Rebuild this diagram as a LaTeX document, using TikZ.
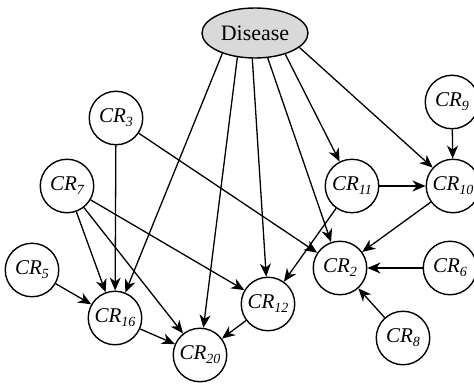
\documentclass[tikz,border=0pt]{standalone}
\usepackage{fontspec}
\setmainfont{Liberation Serif}
\usepackage{xcolor}
\usepackage{tikz}
\usetikzlibrary{shapes.geometric, arrows.meta, positioning}
\definecolor{diseasegray}{RGB}{217,217,217}
\tikzset{
    circlenode/.style = {circle, draw, line width=1.4pt, inner sep = 0em, minimum size=53.5pt, 
      node distance=0em, font=\fontsize{21}{24}\selectfont\itshape},
    ellipsenode/.style = {draw, ellipse, line width=1.4pt, fill=diseasegray, inner sep = 0em, 
      node distance=0em, minimum width=106pt, minimum height=50pt, font=\fontsize{22}{26}\selectfont},
    connect/.style = {black, line width=1.3pt, -{Stealth[length=13pt, width=11pt, inset=4pt]}}
}
\newcommand{\crlab}[1]{CR\raisebox{-4pt}{\fontsize{14}{14}\selectfont #1}}

\begin{document}
\begin{tikzpicture}
    \useasboundingbox (-255pt,33pt) rectangle (219pt,-350pt);

    \node [name=dis, ellipsenode] {Disease}; 

    \node [name=cr3, circlenode, right of = dis, xshift=-139pt, yshift=-85pt] {\crlab{3}}; 
    \node [name=cr9, circlenode, right of = dis, xshift=197pt, yshift=-69pt] {\crlab{9}}; 

    \node [name=cr7, circlenode, right of = dis, xshift=-188pt, yshift=-153pt] {\crlab{7}}; 
    \node [name=cr11, circlenode, right of = dis, xshift=97pt, yshift=-153pt] {\crlab{11}}; 
    \node [name=cr10, circlenode, right of = dis, xshift=198pt, yshift=-153pt] {\crlab{10}}; 

    \node [name=cr5, circlenode, right of = dis, xshift=-223pt, yshift=-237pt] {\crlab{5}}; 
    \node [name=cr2, circlenode, right of = dis, xshift=85pt, yshift=-235pt] {\crlab{2}}; 
    \node [name=cr6, circlenode, right of = dis, xshift=195pt, yshift=-235pt] {\crlab{6}}; 

    \node [name=cr12, circlenode, right of = dis, xshift=13pt, yshift=-271pt] {\crlab{12}}; 
    \node [name=cr16, circlenode, right of = dis, xshift=-140pt, yshift=-285pt] {\crlab{16}}; 
    \node [name=cr8, circlenode, right of = dis, xshift=148pt, yshift=-305pt] {\crlab{8}}; 
    \node [name=cr20, circlenode, right of = dis, xshift=-55pt, yshift=-322pt] {\crlab{20}}; 

    \draw [connect] (dis.212) -- (cr16);
    \draw [connect] (dis.234) -- (cr20);
    \draw [connect] (dis.264) -- (cr12);
    \draw [connect] (dis.297) -- (cr2);
    \draw [connect] (dis.325) -- (cr11);
    \draw [connect] (dis.342) -- (cr10);

    \draw [connect] (cr3) -- (cr16);
    \draw [connect] (cr3) -- (cr2);
    \draw [connect] (cr7) -- (cr16);
    \draw [connect] (cr7) -- (cr20);
    \draw [connect] (cr7) -- (cr12);
    \draw [connect] (cr5) -- (cr16);
    \draw [connect] (cr16) -- (cr20);
    \draw [connect] (cr12) -- (cr20);

    \draw [connect] (cr9) -- (cr10);
    \draw [connect] (cr11) -- (cr10);
    \draw [connect] (cr11) -- (cr12);
    \draw [connect] (cr10) -- (cr2);
    \draw [connect] (cr6) -- (cr2);
    \draw [connect] (cr8) -- (cr2);
\end{tikzpicture}
\end{document}
